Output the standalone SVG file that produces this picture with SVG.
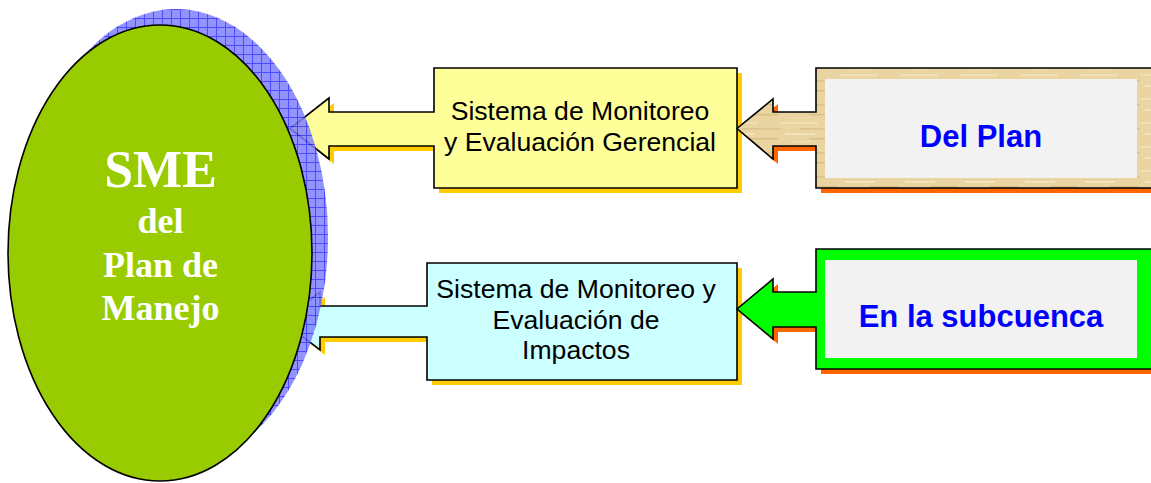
<svg xmlns="http://www.w3.org/2000/svg" width="1151" height="483" viewBox="0 0 1151 483">
  <defs>
    <pattern id="hatch" patternUnits="userSpaceOnUse" width="9" height="9">
      <rect width="9" height="9" fill="#8080FF"/>
      <path d="M0,0.5 H9 M0.5,0 V9" stroke="#2B2BFF" stroke-width="1" fill="none"/>
    </pattern>
    <pattern id="wood" patternUnits="userSpaceOnUse" width="60" height="24">
      <rect width="60" height="24" fill="#E9D4A2"/>
      <rect x="0" y="2" width="38" height="2" fill="#F1DEB2"/>
      <rect x="20" y="8" width="40" height="1.5" fill="#DCC28C"/>
      <rect x="5" y="13" width="30" height="2" fill="#F3E2BA"/>
      <rect x="30" y="18" width="28" height="1.5" fill="#D9BE86"/>
      <rect x="10" y="21" width="22" height="1.5" fill="#EEDBAE"/>
    </pattern>
    <style>
      .stroke { stroke: #000; stroke-width: 1.6; stroke-linejoin: miter; }
      .lbl { font-family: "Liberation Sans", Arial, sans-serif; font-size: 26.6px; fill: #000; text-anchor: middle; }
      .src { font-family: "Liberation Sans", Arial, sans-serif; font-size: 31px; font-weight: bold; fill: #0000FF; text-anchor: middle; }
      .sme { font-family: "Liberation Serif", "Times New Roman", serif; font-weight: bold; fill: #FFFFFF; text-anchor: middle; }
    </style>
  </defs>

  <g id="connectors">
    <!-- arrows are part of the callout shapes below -->
  </g>

  <g id="callout-gerencial">
    <path d="M439,73 H742 V193 H439 V151 H334 V164 L295,133.5 L334,103 V117 H439 Z" fill="#FFCC00"/>
    <path class="stroke" d="M434,68 H737 V188 H434 V146 H329 V159 L290,128.5 L329,98 V112 H434 Z" fill="#FFFF99"/>
    <text class="lbl" x="580" y="120">Sistema de Monitoreo</text>
    <text class="lbl" x="580" y="151">y Evaluación Gerencial</text>
  </g>

  <g id="callout-impactos">
    <path d="M432,268 H742 V385 H432 V342 H325 V355 L287,326 L325,297 V311 H432 Z" fill="#FFCC00"/>
    <path class="stroke" d="M427,263 H737 V380 H427 V337 H320 V350 L282,321 L320,292 V306 H427 Z" fill="#CCFFFF"/>
    <text class="lbl" x="576" y="298">Sistema de Monitoreo y</text>
    <text class="lbl" x="576" y="329">Evaluación de</text>
    <text class="lbl" x="576" y="359">Impactos</text>
  </g>

  <g id="sme">
    <ellipse cx="176" cy="237" rx="152" ry="228" fill="url(#hatch)" opacity="0.85"/>
    <ellipse class="stroke" cx="160" cy="253" rx="152" ry="228" fill="#99CC00"/>
    <text class="sme" x="160.5" y="187" font-size="52">SME</text>
    <text class="sme" x="160.5" y="233" font-size="36">del</text>
    <text class="sme" x="160.5" y="277" font-size="36">Plan de</text>
    <text class="sme" x="160.5" y="320" font-size="36">Manejo</text>
  </g>

  <g id="del-plan">
    <path d="M821,73 H1165 V193 H821 V151 H778 V164 L742,133.5 L778,104 V117 H821 Z" fill="#FF6600"/>
    <path class="stroke" d="M816,68 H1160 V188 H816 V146 H773 V159 L737,128.5 L773,99 V112 H816 Z" fill="url(#wood)"/>
    <rect x="825" y="79" width="312" height="99" fill="#F2F2F2"/>
    <text class="src" x="981" y="147">Del Plan</text>
  </g>

  <g id="en-la-subcuenca">
    <path d="M821,254 H1165 V374 H821 V332 H778 V344 L742,314 L778,284 V297 H821 Z" fill="#FF6600"/>
    <path class="stroke" d="M816,249 H1160 V369 H816 V327 H773 V339 L737,309 L773,279 V292 H816 Z" fill="#00FF00"/>
    <rect x="825" y="260" width="312" height="98" fill="#F2F2F2"/>
    <text class="src" x="981" y="327">En la subcuenca</text>
  </g>
</svg>
